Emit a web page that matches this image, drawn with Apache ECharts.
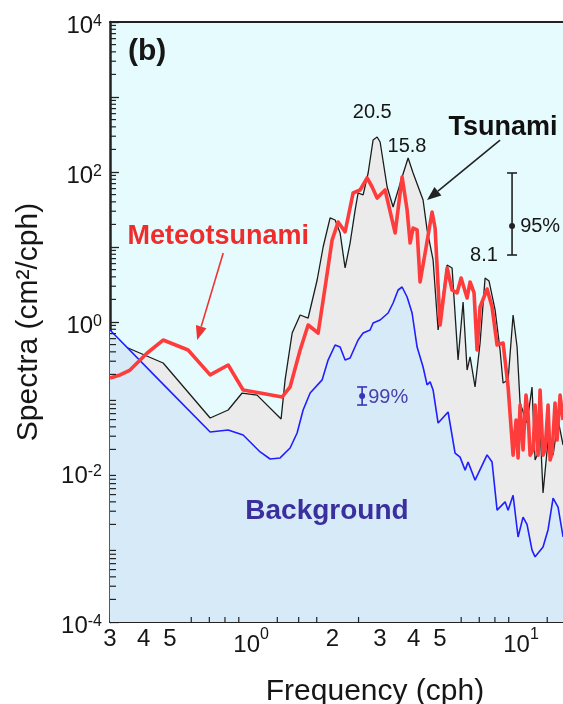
<!DOCTYPE html>
<html><head><meta charset="utf-8">
<script src="https://cdn.jsdelivr.net/npm/echarts@6/dist/echarts.min.js"></script>
<style>html,body{margin:0;padding:0;background:#fff}#c{width:563px;height:704px}</style>
</head><body><div id="c"></div>
<script>
// ---------- data: [frequency (cph), spectrum (cm^2/cph)] ----------
const background = [[0.30,0.782],[0.46,0.163],[0.705,0.0341],[0.822,0.0363],[0.934,0.0311],[1.08,0.0185],[1.176,0.0149],[1.28,0.0154],[1.394,0.0209],[1.48,0.0331],[1.558,0.0671],[1.654,0.113],[1.832,0.169],[1.928,0.311],[2.047,0.494],[2.136,0.464],[2.229,0.311],[2.326,0.331],[2.49,0.575],[2.599,0.713],[2.759,0.782],[2.83,0.970],[3.005,1.063],[3.217,1.318],[3.357,1.792],[3.503,2.672],[3.625,2.929],[3.783,2.154],[3.947,1.318],[4.119,0.464],[4.335,0.251],[4.486,0.145],[4.603,0.159],[4.721,0.124],[4.928,0.045],[5.366,0.0631],[5.695,0.0179],[5.943,0.0158],[6.204,0.0106],[6.364,0.0136],[6.754,0.0078],[7.482,0.0169],[7.808,0.0136],[8.15,0.0031],[8.725,0.0040],[8.952,0.0031],[9.342,0.0049],[9.748,0.00136],[10.17,0.0025],[10.52,0.0020],[10.98,0.00091],[11.27,0.00074],[12.06,0.0010],[12.59,0.0017],[13.14,0.0045],[13.71,0.0034],[14.31,0.00136]];

const tsunami = [[0.30,0.363],[0.35,0.450],[0.472,0.284],[0.705,0.0525],[0.822,0.0671],[0.926,0.113],[1.052,0.106],[1.291,0.0509],[1.336,0.169],[1.419,0.713],[1.519,1.24],[1.626,1.13],[1.756,3.63],[1.848,10.0],[1.961,24.4],[2.047,22.9],[2.136,15.4],[2.229,5.25],[2.326,11.3],[2.428,31.1],[2.49,52.5],[2.599,49.4],[2.713,97.0],[2.83,267],[2.929,293],[3.005,251],[3.19,63.1],[3.357,34.2],[3.625,85.8],[3.815,154],[3.981,97.0],[4.335,42.3],[4.486,16.9],[4.721,6.71],[4.928,0.782],[5.321,5.75],[5.552,5.25],[5.843,0.311],[6.098,1.85],[6.31,0.229],[6.474,0.342],[6.754,0.136],[7.049,0.525],[7.356,3.86],[7.61,3.52],[8.012,1.45],[8.36,0.423],[8.577,0.154],[8.952,0.169],[9.342,1.24],[9.665,0.464],[9.915,0.0832],[10.52,0.045],[10.98,0.136],[11.27,0.0145],[11.56,0.0179],[11.76,0.0398],[12.06,0.00525],[12.59,0.0267],[13.14,0.0168],[13.71,0.0494],[14.31,0.0229]];

const meteotsunami = [[0.30,0.179],[0.327,0.197],[0.356,0.229],[0.412,0.386],[0.472,0.575],[0.584,0.423],[0.705,0.197],[0.822,0.267],[0.934,0.124],[1.08,0.113],[1.303,0.100],[1.394,0.136],[1.519,0.423],[1.626,0.912],[1.771,0.713],[1.88,2.93],[1.995,12.4],[2.10,21.5],[2.229,15.9],[2.387,52.5],[2.533,57.5],[2.689,83.2],[2.807,63.1],[2.929,45.0],[3.135,57.5],[3.415,15.4],[3.625,85.8],[3.783,31.1],[3.881,11.3],[3.981,17.9],[4.119,16.9],[4.225,3.42],[4.411,8.32],[4.681,29.3],[4.803,17.9],[5.012,0.912],[5.321,5.25],[5.552,2.67],[5.794,2.44],[5.995,3.86],[6.31,2.09],[6.474,3.42],[6.697,2.44],[6.871,0.423],[7.049,1.585],[7.482,2.75],[7.808,1.585],[8.15,0.494],[8.577,0.525],[8.952,0.136],[9.342,0.0168],[9.583,0.0494],[9.748,0.0154],[9.915,0.0782],[10.17,0.0197],[10.43,0.106],[10.61,0.0612],[10.80,0.0168],[11.08,0.0197],[11.27,0.0782],[11.56,0.0168],[11.76,0.124],[12.06,0.0168],[12.27,0.0197],[12.59,0.0782],[12.81,0.0145],[13.03,0.0179],[13.36,0.0832],[13.59,0.0267],[13.95,0.106],[14.31,0.0494]];

// axis ticks / labels
const xRange = [0.3, 14.3];
const yRange = [1e-4, 1e4];
const xLabelTicks = [0.3, 0.4, 0.5, 1, 2, 3, 4, 5, 10];
const xMinorTicks = [0.6, 0.7, 0.8, 0.9, 1.25, 1.5, 1.75, 2.5, 6, 7, 8, 9, 12.5];
const yLabelTicks = [1e-4, 1e-2, 1, 1e2, 1e4];
const yDecadeTicks = [1e-4, 1e-3, 1e-2, 1e-1, 1, 1e1, 1e2, 1e3, 1e4];

// annotations (anchored in data coordinates)
const notes = [
  {text:'(b)', f:0.412, s:3981, font:'bold 30px', color:'#161616', align:'center'},
  {text:'20.5', f:2.81, s:631, font:'20px', color:'#161616', align:'center'},
  {text:'15.8', f:3.78, s:222, font:'20px', color:'#161616', align:'center'},
  {text:'8.1', f:7.29, s:7.59, font:'20px', color:'#161616', align:'center'},
  {text:'Tsunami', f:8.58, s:386, font:'bold 27px', color:'#111111', align:'center'},
  {text:'Meteotsunami', f:0.755, s:13.6, font:'bold 27px', color:'#ee2c2c', align:'center'},
  {text:'Background', f:1.91, s:0.00302, font:'bold 28px', color:'#3b2f9e', align:'center'},
  {text:'95%', f:9.92, s:19.0, font:'20px', color:'#161616', align:'left'},
  {text:'99%', f:2.713, s:0.100, font:'20px', color:'#4a3fa8', align:'left'}
];
const arrows = [
  {from:[8.36, 267], to:[4.486, 42.3], color:'#222222'},
  {from:[0.788, 8.32], to:[0.631, 0.575], color:'#ee3333'}
];
const errorBars = [
  {f:9.26, lo:7.82, mid:19.0, hi:97, color:'#222222'},
  {f:2.577, lo:0.0782, mid:0.103, hi:0.136, color:'#3a32b8'}
];

// ---------- chart ----------
const FONT = '"Liberation Sans", Arial, Helvetica, sans-serif';
const lg = Math.log10;
const yMinorTicks = [];
for (let e = -4; e < 4; e++) for (let k = 2; k <= 9; k++) yMinorTicks.push(k * Math.pow(10, e));
const toXY = arr => arr.map(p => [lg(p[0]), lg(p[1])]);

const chart = echarts.init(document.getElementById('c'), null, {renderer:'canvas'});
const axisColor = '#222';
const xBase = {type:'value', min:lg(xRange[0]), max:lg(xRange[1]), splitLine:{show:false}};
const yBase = {type:'value', min:lg(yRange[0]), max:lg(yRange[1]), splitLine:{show:false}};

// minor ticks: x ticks sit on the bottom axis, y ticks on the left axis
const minorTickData = xMinorTicks.map(v => [lg(v), lg(yRange[0])])
  .concat(yMinorTicks.map(v => [lg(xRange[0]), lg(v)]));
const nXMinor = xMinorTicks.length;

const option = {
  animation:false,
  backgroundColor:'#ffffff',
  grid:{left:110, right:0, top:22, bottom:82, show:true, backgroundColor:'#e6fbfd', borderWidth:0},
  xAxis:[
    Object.assign({}, xBase, {position:'bottom',
      axisLine:{show:true, onZero:false, lineStyle:{color:axisColor, width:2}},
      axisTick:{show:true, inside:true, length:8, customValues:xLabelTicks.map(lg), lineStyle:{color:axisColor, width:1.3}},
      axisLabel:{show:true, customValues:xLabelTicks.map(lg), margin:5, color:'#161616', fontFamily:FONT,
        formatter:v => {
          const f = Math.pow(10, v);
          if (Math.abs(f - 1) < 1e-6) return '{e|10}{s|0}';
          if (Math.abs(f - 10) < 1e-6) return '{e|10}{s|1}';
          return '{d|' + (f < 1 ? Math.round(f * 10) : Math.round(f)) + '}';
        },
        rich:{
          d:{fontSize:24, lineHeight:24, fontFamily:FONT, color:'#161616'},
          e:{fontSize:24, lineHeight:24, verticalAlign:'bottom', fontFamily:FONT, color:'#161616'},
          s:{fontSize:16, lineHeight:30, verticalAlign:'top', fontFamily:FONT, color:'#161616'}
        }}}),
    Object.assign({}, xBase, {position:'top',
      axisLine:{show:true, onZero:false, lineStyle:{color:axisColor, width:2}},
      axisTick:{show:false}, axisLabel:{show:false}})
  ],
  yAxis:[
    Object.assign({}, yBase, {position:'left',
      axisLine:{show:true, onZero:false, lineStyle:{color:axisColor, width:2.5}},
      axisTick:{show:true, inside:true, length:9, customValues:yDecadeTicks.map(lg), lineStyle:{color:axisColor, width:1.3}},
      axisLabel:{show:true, customValues:yLabelTicks.map(lg), margin:8, padding:[8,0,0,0],
        formatter:v => '{e|10}{s|' + Math.round(v) + '}',
        rich:{
          e:{fontSize:24, lineHeight:24, verticalAlign:'bottom', fontFamily:FONT, color:'#161616'},
          s:{fontSize:16, lineHeight:16, verticalAlign:'top', fontFamily:FONT, color:'#161616'}
        }},
      name:'Spectra (cm²/cph)', nameLocation:'middle', nameRotate:90, nameGap:66,
      nameTextStyle:{fontSize:30, fontFamily:FONT, color:'#161616'}})
  ],
  graphic:[
    {type:'text', x:375, y:692, z:100, style:{text:'Frequency (cph)', font:'30px ' + FONT, fill:'#161616', align:'center', verticalAlign:'middle'}}
  ],
  series:[
    {type:'line', name:'Tsunami', data:toXY(tsunami), symbol:'none', z:2,
      lineStyle:{color:'#1c1c1c', width:1.3}, areaStyle:{color:'#ebebeb', origin:'start', opacity:1}},
    {type:'line', name:'Background', data:toXY(background), symbol:'none', z:3,
      lineStyle:{color:'#1f1fff', width:1.6}, areaStyle:{color:'#d6eaf8', origin:'start', opacity:1}},
    {type:'line', name:'Meteotsunami', data:toXY(meteotsunami), symbol:'none', z:4,
      lineStyle:{color:'#ff3c3c', width:3.6, join:'round'}},
    {type:'custom', name:'minorTicks', z:8, silent:true, clip:false,
      data:minorTickData,
      renderItem:(params, api) => {
        const p = api.coord([api.value(0), api.value(1)]);
        const st = {stroke:axisColor, lineWidth:1.2};
        if (params.dataIndex < nXMinor) {
          return {type:'line', shape:{x1:p[0], y1:p[1], x2:p[0], y2:p[1] - 5}, style:st};
        }
        return {type:'line', shape:{x1:p[0], y1:p[1], x2:p[0] + 6, y2:p[1]}, style:st};
      }},
    {type:'custom', name:'errorBars', z:6, silent:true,
      data:errorBars.map(b => [lg(b.f), lg(b.lo), lg(b.mid), lg(b.hi)]),
      renderItem:(params, api) => {
        const b = errorBars[params.dataIndex];
        const lo = api.coord([api.value(0), api.value(1)]);
        const mid = api.coord([api.value(0), api.value(2)]);
        const hi = api.coord([api.value(0), api.value(3)]);
        const st = {stroke:b.color, lineWidth:1.6};
        return {type:'group', children:[
          {type:'line', shape:{x1:lo[0], y1:lo[1], x2:hi[0], y2:hi[1]}, style:st},
          {type:'line', shape:{x1:lo[0]-5, y1:lo[1], x2:lo[0]+5, y2:lo[1]}, style:st},
          {type:'line', shape:{x1:hi[0]-5, y1:hi[1], x2:hi[0]+5, y2:hi[1]}, style:st},
          {type:'circle', shape:{cx:mid[0], cy:mid[1], r:3}, style:{fill:b.color}}
        ]};
      }},
    {type:'custom', name:'arrows', z:6, silent:true,
      data:arrows.map(a => [lg(a.from[0]), lg(a.from[1]), lg(a.to[0]), lg(a.to[1])]),
      renderItem:(params, api) => {
        const a = arrows[params.dataIndex];
        const p1 = api.coord([api.value(0), api.value(1)]);
        const p2 = api.coord([api.value(2), api.value(3)]);
        const dx = p2[0] - p1[0], dy = p2[1] - p1[1];
        const L = Math.sqrt(dx*dx + dy*dy), ux = dx / L, uy = dy / L;
        const hl = 14, hw = 5.5;
        const bx = p2[0] - ux * hl, by = p2[1] - uy * hl;
        return {type:'group', children:[
          {type:'line', shape:{x1:p1[0], y1:p1[1], x2:bx, y2:by}, style:{stroke:a.color, lineWidth:1.6}},
          {type:'polygon', shape:{points:[[p2[0], p2[1]], [bx - uy*hw, by + ux*hw], [bx + uy*hw, by - ux*hw]]}, style:{fill:a.color}}
        ]};
      }},
    {type:'custom', name:'notes', z:7, silent:true, clip:false,
      data:notes.map(n => [lg(n.f), lg(n.s)]),
      renderItem:(params, api) => {
        const n = notes[params.dataIndex];
        const p = api.coord([api.value(0), api.value(1)]);
        return {type:'text', x:p[0], y:p[1], style:{text:n.text, font:n.font + ' ' + FONT, fill:n.color, align:n.align, verticalAlign:'middle'}};
      }}
  ]
};
chart.setOption(option);
</script>
</body></html>
